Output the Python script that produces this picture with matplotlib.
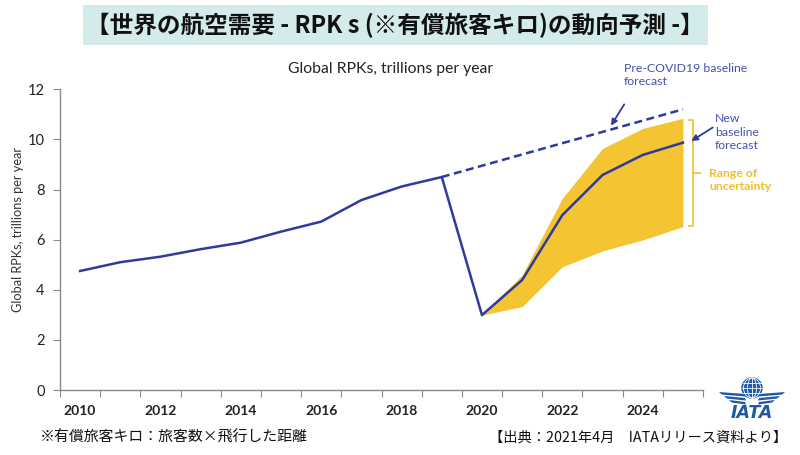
import matplotlib
matplotlib.use("Agg")
import matplotlib.pyplot as plt
from matplotlib.patches import Rectangle, Polygon, Circle, Ellipse
import numpy as np

# ---- data ----
years = [2010, 2011, 2012, 2013, 2014, 2015, 2016, 2017, 2018, 2019, 2020,
         2021, 2022, 2023, 2024, 2025]
rpk = [4.75, 5.10, 5.32, 5.62, 5.88, 6.32, 6.72, 7.58, 8.12, 8.50, 2.99,
       4.39, 6.98, 8.58, 9.38, 9.87]
pre_years = [2019, 2020, 2021, 2022, 2023, 2024, 2025]
pre_covid = [8.50, 8.95, 9.40, 9.85, 10.30, 10.75, 11.20]
band_years = [2020, 2021, 2022, 2023, 2024, 2025]
band_upper = [3.00, 4.59, 7.65, 9.64, 10.44, 10.84]
band_lower = [2.99, 3.33, 4.92, 5.55, 5.99, 6.52]
xtick_labels = [2010, 2012, 2014, 2016, 2018, 2020, 2022, 2024]
yticks = [0, 2, 4, 6, 8, 10, 12]

LINE = "#2E3A9E"
ANN = "#4650B0"
GOLD = "#F5C432"
CJK = ["Noto Sans CJK JP", "DejaVu Sans"]
LAT = ["Lato", "DejaVu Sans"]

W, H = 800, 455
fig = plt.figure(figsize=(8, 4.55), dpi=100)

def fx(px):
    return px / W

def fy(py):
    return (H - py) / H

# title box
fig.patches.append(Rectangle((fx(83), fy(45)), fx(708) - fx(83), fy(5) - fy(45),
                             transform=fig.transFigure, facecolor="#D3EBEB",
                             edgecolor="none", zorder=0))
fig.text(fx(395), fy(25), "【世界の航空需要 - RPK s (※有償旅客キロ)の動向予測 -】",
         family=CJK, fontsize=17, fontweight="bold", ha="center", va="center",
         color="#111111")

ax = fig.add_axes([fx(60), fy(390), fx(703) - fx(60), fy(89.3) - fy(390)])
ax.fill_between(band_years, band_lower, band_upper, color=GOLD, lw=0, zorder=1)
ax.plot(pre_years, pre_covid, color=LINE, lw=1.8, ls=(0, (3.2, 1.8)), zorder=2)
ax.plot(years, rpk, color=LINE, lw=1.8, zorder=3)

ax.set_xlim(2009.5, 2025.5)
ax.set_ylim(0, 12)
for s in ["top", "right"]:
    ax.spines[s].set_visible(False)
for s in ["left", "bottom"]:
    ax.spines[s].set_color("#8A8A8A")
    ax.spines[s].set_linewidth(1.0)

ax.set_xticks(np.arange(2009.5, 2026, 1.0))
ax.set_xticklabels([])
ax.tick_params(axis="x", which="major", length=5, color="#8A8A8A")
ax.set_xticks(xtick_labels, minor=True)
ax.set_xticklabels([str(v) for v in xtick_labels], minor=True)
ax.tick_params(axis="x", which="minor", length=0, pad=11, labelsize=10,
               labelcolor="#222222")
for lab in ax.get_xticklabels(minor=True):
    lab.set_family(LAT)
    lab.set_fontweight("bold")

ax.set_yticks(yticks)
ax.set_yticklabels([str(v) for v in yticks])
ax.tick_params(axis="y", length=5, color="#8A8A8A", labelsize=10.5,
               labelcolor="#222222", pad=6)
for lab in ax.get_yticklabels():
    lab.set_family(LAT)

ax.set_ylabel("Global RPKs, trillions per year", family=LAT, fontsize=9.2,
              color="#333333")
ax.yaxis.set_label_coords((24 - 60) / 643, (390 - 230) / 300.7)

fig.text(fx(391), fy(69), "Global RPKs, trillions per year", family=LAT,
         fontsize=11.3, ha="center", va="center", color="#222222")

# annotations
def dx(px):
    return 2009.5 + (px - 60) / 40.0

def dy(py):
    return (390 - py) / 25.06

ax.annotate("", xy=(dx(607), dy(128)), xytext=(dx(623), dy(102)),
            arrowprops=dict(arrowstyle="-|>", color=LINE, lw=1.3,
                            mutation_scale=9), annotation_clip=False)
ax.text(dx(621), dy(75), "Pre-COVID19 baseline\nforecast", family=LAT,
        fontsize=8.8, color=ANN, ha="left", va="center", linespacing=1.25,
        clip_on=False)
ax.annotate("", xy=(dx(686), dy(142.5)), xytext=(dx(712), dy(126)),
            arrowprops=dict(arrowstyle="-|>", color=LINE, lw=1.3,
                            mutation_scale=9), annotation_clip=False)
ax.text(dx(712), dy(132), "New\nbaseline\nforecast", family=LAT,
        fontsize=8.8, color=ANN, ha="left", va="center", linespacing=1.25,
        clip_on=False)

# bracket
bx = dx(690)
ax.plot([dx(686), bx, bx, dx(686)], [dy(120), dy(120), dy(226), dy(226)],
        color=GOLD, lw=1.3, clip_on=False)
ax.plot([bx, dx(697)], [dy(173), dy(173)], color=GOLD, lw=1.3, clip_on=False)
ax.text(dx(706), dy(180), "Range of\nuncertainty", family=LAT, fontsize=8.8,
        fontweight="bold", color="#F2BE2A", ha="left", va="center",
        linespacing=1.25, clip_on=False)

# footnotes
fig.text(fx(40), fy(438), "※有償旅客キロ：旅客数×飛行した距離", family=CJK,
         fontsize=10.7, ha="left", va="center", color="#111111")
fig.text(fx(787), fy(438), "【出典：2021年4月　IATAリリース資料より】", family=CJK,
         fontsize=10.3, ha="right", va="center", color="#111111")

# IATA logo
lx = fig.add_axes([fx(715), fy(425), fx(790) - fx(715), fy(375) - fy(425)])
lx.set_xlim(715, 790)
lx.set_ylim(425, 375)
lx.axis("off")
BL = "#2058A8"
cx, cy, r = 752, 388, 10
lx.add_patch(Circle((cx, cy), r, color=BL, zorder=1))
for wfrac in [0.0, 0.45, 0.85]:
    if wfrac == 0.0:
        lx.plot([cx, cx], [cy - r, cy + r], color="white", lw=0.6, zorder=2)
    else:
        lx.add_patch(Ellipse((cx, cy), 2 * r * wfrac, 2 * r, fill=False,
                             ec="white", lw=0.6, zorder=2))
for off in [-5, 0, 5]:
    hw = np.sqrt(r ** 2 - off ** 2)
    lx.plot([cx - hw, cx + hw], [cy + off, cy + off], color="white", lw=0.6,
            zorder=2)
for i in range(3):
    y0 = 392 + i * 4.0
    x0 = 719 + i * 5.0
    pts = [(x0, y0), (cx - 7, y0 + 2.0), (cx - 6, y0 + 4.5), (x0 + 3, y0 + 2.6)]
    lx.add_patch(Polygon(pts, closed=True, color=BL, lw=0))
    mpts = [(2 * cx - p[0], p[1]) for p in pts]
    lx.add_patch(Polygon(mpts, closed=True, color=BL, lw=0))
lx.text(cx, 413, "IATA", family="DejaVu Sans", fontsize=12.5, fontweight="bold",
        style="italic", color=BL, ha="center", va="center")

fig.savefig("out.png", dpi=100)
